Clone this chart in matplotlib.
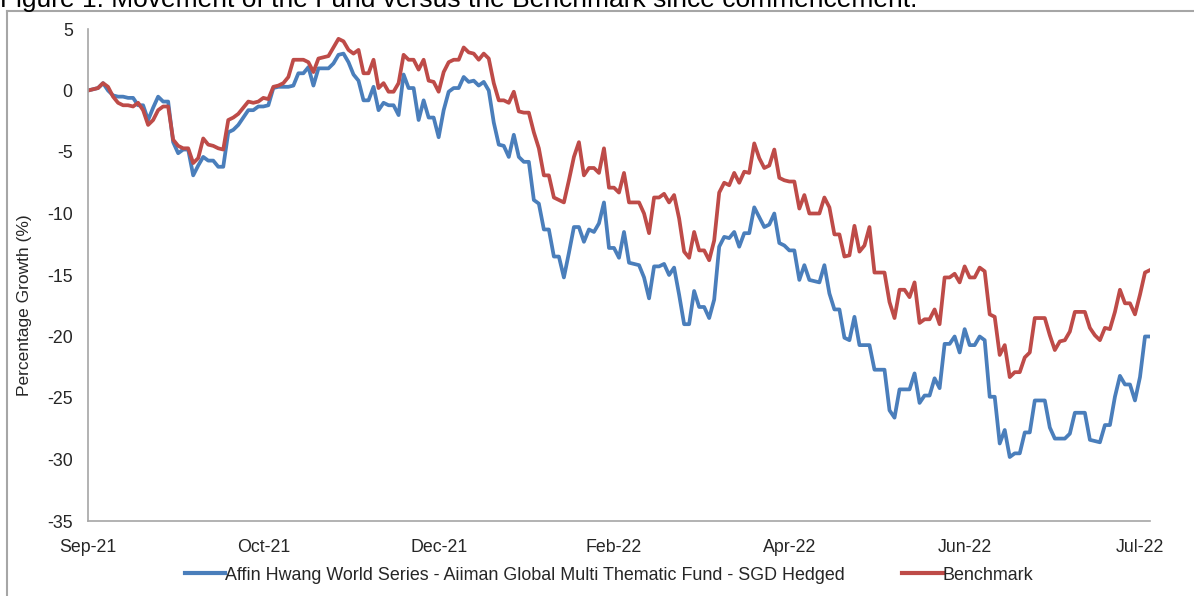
import matplotlib
matplotlib.use("Agg")
import matplotlib.pyplot as plt
from matplotlib.lines import Line2D

plt.rcParams['font.family'] = ['Liberation Sans', 'DejaVu Sans']

fund_label = "Affin Hwang World Series - Aiiman Global Multi Thematic Fund - SGD Hedged"
bench_label = "Benchmark"
title_text = "Figure 1: Movement of the Fund versus the Benchmark since commencement."

# cumulative growth (%), one value per trading day
fund = [
    0.0, 0.1, 0.2, 0.6, 0.0, -0.4, -0.5, -0.5, -0.6, -0.6,
    -1.2, -1.2, -2.4, -1.4, -0.5, -0.9, -0.9, -4.2, -5.1, -4.8,
    -4.8, -6.9, -6.1, -5.4, -5.7, -5.7, -6.2, -6.2, -3.4, -3.2,
    -2.8, -2.2, -1.6, -1.6, -1.3, -1.3, -1.2, 0.2, 0.3, 0.3,
    0.3, 0.4, 1.4, 1.4, 1.9, 0.4, 1.8, 1.8, 1.8, 2.2,
    2.9, 3.0, 2.3, 1.3, 0.8, -0.8, -0.8, 0.3, -1.6, -1.0,
    -1.2, -1.2, -2.0, 1.3, 0.2, 0.2, -2.4, -0.8, -2.2, -2.2,
    -3.8, -1.6, -0.1, 0.2, 0.2, 1.1, 0.7, 0.8, 0.4, 0.7,
    0.0, -2.6, -4.4, -4.5, -5.4, -3.6, -5.4, -5.8, -5.8, -8.9,
    -9.2, -11.3, -11.3, -13.5, -13.5, -15.2, -13.2, -11.1, -11.1, -12.3,
    -11.3, -11.5, -10.8, -9.1, -12.8, -12.8, -13.6, -11.5, -14.0, -14.1,
    -14.2, -15.2, -16.9, -14.3, -14.3, -14.1, -15.0, -14.4, -16.6, -19.0,
    -19.0, -16.3, -17.6, -17.6, -18.5, -17.0, -12.7, -11.9, -12.0, -11.5,
    -12.7, -11.6, -11.6, -9.5, -10.3, -11.1, -10.9, -10.0, -12.4, -12.6,
    -13.0, -13.0, -15.4, -14.2, -15.4, -15.5, -15.6, -14.2, -16.5, -17.8,
    -17.8, -20.1, -20.3, -18.4, -20.7, -20.7, -20.7, -22.7, -22.7, -22.7,
    -26.0, -26.6, -24.3, -24.3, -24.3, -23.0, -25.4, -24.8, -24.8, -23.4,
    -24.2, -20.6, -20.6, -20.0, -21.3, -19.4, -20.7, -20.7, -20.0, -20.3,
    -24.9, -24.9, -28.7, -27.6, -29.8, -29.5, -29.5, -27.8, -27.8, -25.2,
    -25.2, -25.2, -27.4, -28.3, -28.3, -28.3, -27.9, -26.2, -26.2, -26.2,
    -28.4, -28.5, -28.6, -27.2, -27.2, -24.9, -23.2, -23.9, -23.9, -25.2,
    -23.3, -20.0, -20.0,
]

benchmark = [
    0.0, 0.1, 0.2, 0.6, 0.3, -0.5, -1.0, -1.2, -1.2, -1.3,
    -1.0, -1.6, -2.8, -2.4, -1.6, -1.3, -1.3, -4.0, -4.5, -4.7,
    -4.7, -5.9, -5.5, -3.9, -4.4, -4.5, -4.7, -4.8, -2.4, -2.2,
    -1.9, -1.4, -0.9, -1.0, -0.9, -0.6, -0.7, 0.3, 0.4, 0.6,
    1.1, 2.5, 2.5, 2.5, 2.3, 1.5, 2.6, 2.7, 2.8, 3.5,
    4.2, 4.0, 3.3, 3.0, 3.3, 1.4, 1.4, 2.5, 0.2, 0.6,
    -0.1, -0.1, 0.6, 2.9, 2.5, 2.5, 1.7, 2.5, 0.8, 0.7,
    -0.1, 1.5, 2.3, 2.5, 2.5, 3.5, 3.1, 3.0, 2.5, 3.0,
    2.6, 0.6, -0.8, -0.8, -1.0, -0.1, -1.7, -1.8, -1.8, -3.4,
    -4.7, -6.9, -6.9, -8.7, -8.9, -9.1, -7.3, -5.4, -4.2, -6.9,
    -6.3, -6.3, -6.7, -4.7, -7.9, -7.9, -8.3, -6.7, -9.1, -9.1,
    -9.1, -10.0, -11.6, -8.7, -8.7, -8.4, -9.1, -8.5, -10.4, -13.1,
    -13.6, -11.5, -13.0, -13.0, -13.8, -12.2, -8.3, -7.5, -7.7, -6.7,
    -7.5, -6.6, -6.7, -4.3, -5.5, -6.3, -6.1, -4.8, -7.1, -7.3,
    -7.4, -7.4, -9.6, -8.5, -10.0, -10.0, -10.0, -8.7, -9.5, -11.7,
    -11.7, -13.5, -13.4, -11.0, -13.1, -12.6, -11.1, -14.8, -14.8, -14.8,
    -17.2, -18.5, -16.2, -16.2, -16.8, -15.6, -18.9, -18.6, -18.6, -17.8,
    -19.0, -15.2, -15.2, -14.9, -15.6, -14.3, -15.2, -15.2, -14.4, -14.7,
    -18.2, -18.4, -21.5, -20.7, -23.3, -22.9, -22.9, -21.7, -21.3, -18.5,
    -18.5, -18.5, -19.9, -21.1, -20.4, -20.3, -19.6, -18.0, -18.0, -18.0,
    -19.3, -19.9, -20.3, -19.3, -19.4, -18.0, -16.2, -17.3, -17.3, -18.2,
    -16.6, -14.8, -14.6,
]

tick_positions = [0, 35, 70, 105, 140, 175, 210]
tick_labels = ["Sep-21", "Oct-21", "Dec-21", "Feb-22", "Apr-22", "Jun-22", "Jul-22"]
y_ticks = [5, 0, -5, -10, -15, -20, -25, -30, -35]

BLUE = "#4A7EBB"
RED = "#BE4B48"
AXIS_GREY = "#A6A6A6"
TEXT = "#262626"

fig = plt.figure(figsize=(11.94, 5.96), dpi=100)
ax = fig.add_axes([88 / 1194, 1 - 521 / 596, (1150 - 88) / 1194, (521 - 29) / 596])

days = range(len(fund))
ax.plot(days, fund, color=BLUE, lw=2.7, solid_joinstyle='round')
ax.plot(days, benchmark, color=RED, lw=2.7, solid_joinstyle='round')

ax.set_xlim(0, len(fund) - 1)
ax.set_ylim(-35, 5)
ax.set_yticks(y_ticks)
ax.set_yticklabels([str(v) for v in y_ticks])
ax.set_xticks(tick_positions)
ax.set_xticklabels(tick_labels)
ax.tick_params(axis='both', length=0, labelsize=12.8, colors=TEXT)
ax.tick_params(axis='y', pad=11)
ax.tick_params(axis='x', pad=13)

for side in ('top', 'right'):
    ax.spines[side].set_visible(False)
for side in ('left', 'bottom'):
    ax.spines[side].set_color(AXIS_GREY)
    ax.spines[side].set_linewidth(1.2)

fig.text(25 / 1194, 1 - 305 / 596, "Percentage Growth (%)", rotation=90,
         ha='center', va='center', fontsize=12.5, color=TEXT)

# outer frame around the figure area
fig.add_artist(Line2D([7 / 1194, 7 / 1194], [0, 1 - 11 / 596], transform=fig.transFigure,
                      color=AXIS_GREY, lw=1.5))
fig.add_artist(Line2D([7 / 1194, 1], [1 - 11 / 596, 1 - 11 / 596], transform=fig.transFigure,
                      color=AXIS_GREY, lw=1.5))

fig.text(0.0, 1 - 6.5 / 596, title_text, ha='left', va='baseline', fontsize=19, color='black')

handles = [Line2D([], [], color=BLUE, lw=3), Line2D([], [], color=RED, lw=3)]
fig.legend(handles, [fund_label, bench_label], loc='center', bbox_to_anchor=(609 / 1194, 1 - 575 / 596),
           ncol=2, frameon=False, fontsize=12.9, handlelength=2.25, handletextpad=0.0,
           columnspacing=3.2, labelcolor=TEXT)

fig.savefig("out.png", dpi=100, facecolor='white')
